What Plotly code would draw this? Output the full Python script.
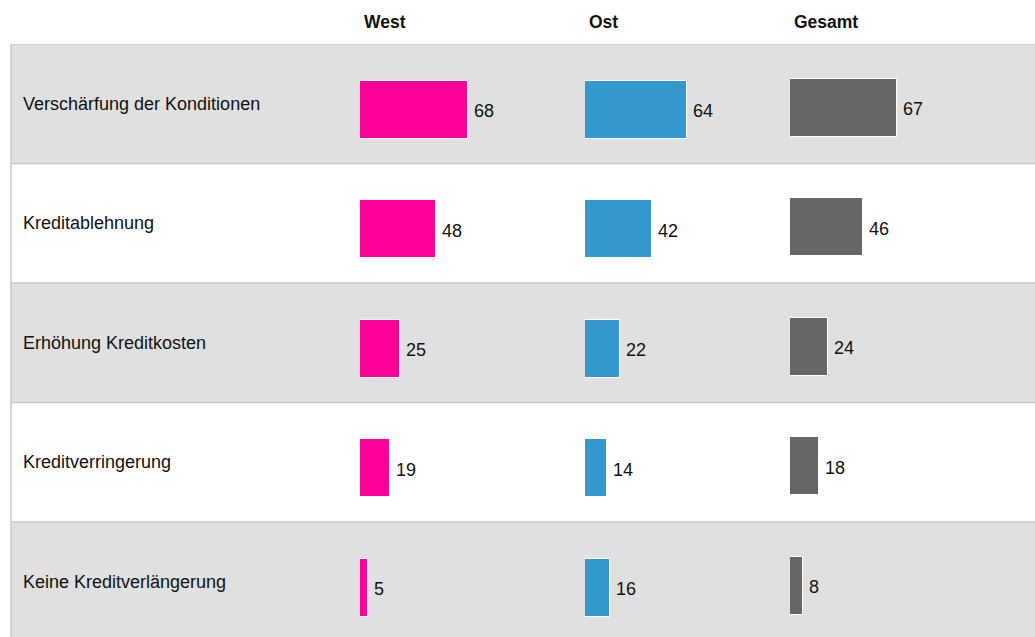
import plotly.graph_objects as go

categories = ["Verschärfung der Konditionen", "Kreditablehnung", "Erhöhung Kreditkosten",
              "Kreditverringerung", "Keine Kreditverlängerung"]
west = [68, 48, 25, 19, 5]
ost = [64, 42, 22, 14, 16]
gesamt = [67, 46, 24, 18, 8]
series_names = ["West", "Ost", "Gesamt"]
colors = ["#ff0099", "#3399cc", "#666666"]

W, H = 1035, 637
PX_PER_UNIT = 1.59
ROW_PX = 119.5
TOP = 44
col_px = [(360, 578), (585, 783), (790, 1035)]
bar_offsets = [-0.192, -0.192, -0.209]
axis_ids = ["x", "x2", "x3"]
FONT = "Liberation Sans, Arial, sans-serif"
LEFT = 11
BAR_W = 0.485

n = len(categories)
y_span = (H - TOP) / ROW_PX

fig = go.Figure()
layout_axes = {}
annotations = []
for k, (name, vals, col) in enumerate(zip(series_names, [west, ost, gesamt], colors)):
    ax = axis_ids[k]
    x0p, x1p = col_px[k]
    fig.add_trace(go.Bar(
        x=vals, y=categories, orientation="h", xaxis=ax, yaxis="y",
        marker=dict(color=col, line=dict(color="white", width=1)),
        width=BAR_W, offset=bar_offsets[k], name=name, showlegend=False, hoverinfo="x+y",
    ))
    key = "xaxis" if k == 0 else f"xaxis{k+1}"
    layout_axes[key] = dict(domain=[x0p / W, min(x1p / W, 1)], range=[0, (x1p - x0p) / PX_PER_UNIT],
                            visible=False, fixedrange=True)
    center_shift = bar_offsets[k] + BAR_W / 2
    for i, v in enumerate(vals):
        annotations.append(dict(x=v, y=i + center_shift, xref=ax, yref="y", text=str(v), showarrow=False,
                                xanchor="left", yanchor="middle", xshift=4, yshift=-1.5,
                                font=dict(family=FONT, size=18, color="#111111")))
    annotations.append(dict(x=(x0p + 2) / W, y=1, xref="paper", yref="paper", text=f"<b>{name}</b>",
                            showarrow=False, xanchor="left", yanchor="middle", yshift=22,
                            font=dict(family=FONT, size=17.5, color="#111111")))

for c in categories:
    annotations.append(dict(x=21 / W, y=c, xref="paper", yref="y", text=c, showarrow=False,
                            xanchor="left", yanchor="middle",
                            font=dict(family=FONT, size=18, color="#111111")))

shapes = []
for i in range(n):
    if i % 2 == 0:
        shapes.append(dict(type="rect", xref="paper", yref="y", x0=LEFT / W, x1=1, y0=i - 0.5, y1=i + 0.5,
                           fillcolor="#e0e0e0", line=dict(width=0), layer="below"))
for i in range(n):
    shapes.append(dict(type="line", xref="paper", yref="y", x0=LEFT / W, x1=1, y0=i - 0.5, y1=i - 0.5,
                       line=dict(color="#c8c8c8", width=1.5), layer="below"))
shapes.append(dict(type="line", xref="paper", yref="paper", x0=LEFT / W, x1=LEFT / W, y0=0, y1=1,
                   line=dict(color="#c8c8c8", width=1.5), layer="below"))

fig.update_layout(
    width=W, height=H,
    margin=dict(l=0, r=0, t=TOP, b=0),
    paper_bgcolor="white", plot_bgcolor="rgba(0,0,0,0)",
    yaxis=dict(categoryorder="array", categoryarray=categories, range=[-0.5 + y_span, -0.5],
               visible=False, fixedrange=True),
    shapes=shapes, annotations=annotations, bargap=0,
    **layout_axes,
)

fig.write_html("out.html", config={"displayModeBar": False},
               post_script="document.body.style.margin='0';document.body.style.overflow='hidden';")
